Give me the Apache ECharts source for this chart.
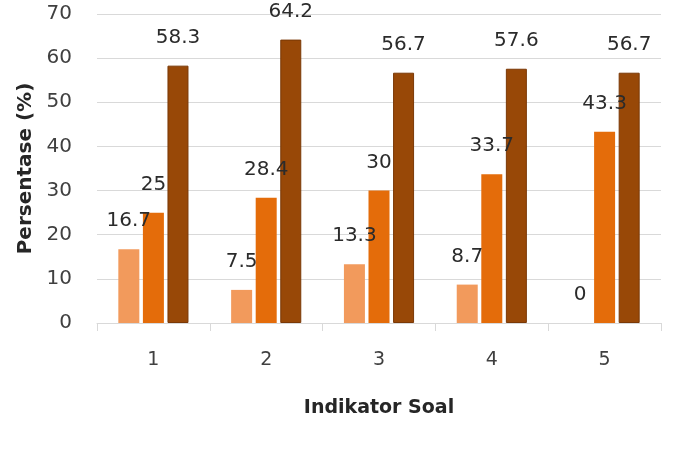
<!DOCTYPE html>
<html>
<head>
<meta charset="utf-8">
<script src="https://cdn.jsdelivr.net/npm/echarts@6/dist/echarts.min.js"></script>
<style>html,body{margin:0;padding:0;background:#fff}#c{width:673px;height:452px}</style>
</head>
<body>
<div id="c"></div>
<script>
var categories = ['1', '2', '3', '4', '5'];
var seriesA = [16.7, 7.5, 13.3, 8.7, 0];
var seriesB = [25, 28.4, 30, 33.7, 43.3];
var seriesC = [58.3, 64.2, 56.7, 57.6, 56.7];
var yTicks = [0, 10, 20, 30, 40, 50, 60, 70];

var font = 'DejaVu Sans';
function lbl() {
  return { show: true, position: 'top', distance: 18, fontFamily: font, fontSize: 20, color: '#2b2b2b' };
}
var chart = echarts.init(document.getElementById('c'), null, { renderer: 'canvas' });
chart.setOption({
  animation: false,
  backgroundColor: '#fff',
  grid: { left: 97, right: 12, top: 14, bottom: 129, containLabel: false },
  xAxis: {
    type: 'category',
    data: categories,
    name: 'Indikator Soal',
    nameLocation: 'middle',
    nameGap: 76,
    nameTextStyle: { fontFamily: font, fontSize: 19, fontWeight: 'bold', color: '#262626' },
    axisLine: { lineStyle: { color: '#d9d9d9' } },
    axisTick: { show: true, length: 8, lineStyle: { color: '#d9d9d9' } },
    axisLabel: { margin: 28, fontFamily: font, fontSize: 19, color: '#404040' }
  },
  yAxis: {
    type: 'value',
    min: yTicks[0],
    max: yTicks[yTicks.length - 1],
    interval: 10,
    name: 'Persentase (%)',
    nameLocation: 'middle',
    nameGap: 61,
    nameTextStyle: { fontFamily: font, fontSize: 20, fontWeight: 'bold', color: '#262626' },
    axisLine: { show: false },
    axisTick: { show: false },
    splitLine: { lineStyle: { color: '#d9d9d9' } },
    axisLabel: { margin: 25, fontFamily: font, fontSize: 20, color: '#404040' }
  },
  series: [
    { type: 'bar', data: seriesA, barWidth: 21, barGap: '17%',
      itemStyle: { color: '#F29A5C' }, label: lbl() },
    { type: 'bar', data: seriesB, barWidth: 21, barGap: '17%',
      itemStyle: { color: '#E46C0A' }, label: lbl() },
    { type: 'bar', data: seriesC, barWidth: 21, barGap: '17%',
      itemStyle: { color: '#984807', borderColor: '#7A3806', borderWidth: 1 }, label: lbl() }
  ]
});
</script>
</body>
</html>
